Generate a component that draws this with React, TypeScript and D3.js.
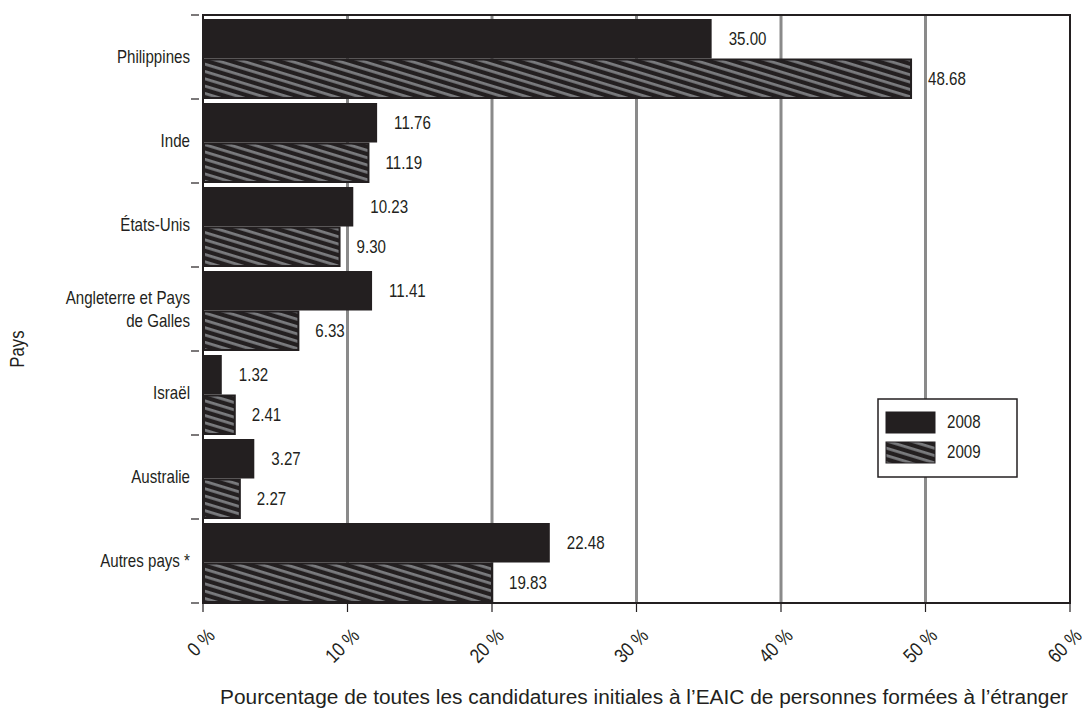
import * as d3 from "d3";
import type { ReactNode } from "react";

const width = 1082;
const height = 709;

const categories = [
  ["Philippines"],
  ["Inde"],
  ["États-Unis"],
  ["Angleterre et Pays", "de Galles"],
  ["Israël"],
  ["Australie"],
  ["Autres pays *"],
];
const series = ["2008", "2009"];
// bar lengths as drawn (in %)
const bars2008 = [35.2, 12.05, 10.4, 11.7, 1.3, 3.55, 24.0];
const bars2009 = [49.0, 11.45, 9.45, 6.6, 2.2, 2.55, 20.0];
// printed value labels
const labels2008 = ["35.00", "11.76", "10.23", "11.41", "1.32", "3.27", "22.48"];
const labels2009 = ["48.68", "11.19", "9.30", "6.33", "2.41", "2.27", "19.83"];
const xTicks = [0, 10, 20, 30, 40, 50, 60];

const font = "'Liberation Sans', Arial, sans-serif";
const ink = "#231f20";
const squeeze = 0.84; // condensed look

const plot = { left: 203, right: 1070, top: 15, bottom: 603 };

// narrow text: Liberation Sans squeezed horizontally
const Txt = ({
  x,
  y,
  rotate = 0,
  anchor = "start",
  size = 18,
  dy,
  children,
}: {
  x: number;
  y: number;
  rotate?: number;
  anchor?: string;
  size?: number;
  dy?: string;
  children: ReactNode;
}) => (
  <text
    transform={`translate(${x},${y}) rotate(${rotate}) scale(${squeeze},1)`}
    textAnchor={anchor}
    fontSize={size}
    dy={dy}
    fill={ink}
  >
    {children}
  </text>
);

const App = () => {
  const x = d3.scaleLinear().domain([0, 60]).range([plot.left, plot.right]);
  const y = d3
    .scaleBand()
    .domain(categories.map((c) => c.join(" ")))
    .range([plot.top, plot.bottom]);
  const inner = d3.scaleBand().domain(series).range([4, y.bandwidth() - 1]);

  const rows = categories.map((c, i) => ({
    key: c.join(" "),
    lines: c,
    vals: [bars2008[i], bars2009[i]],
    labels: [labels2008[i], labels2009[i]],
  }));

  return (
    <svg
      width={width}
      height={height}
      style={{ position: "absolute", left: 0, top: 0, fontFamily: font }}
    >
      <defs>
        <pattern
          id="hatch"
          patternUnits="userSpaceOnUse"
          width={12}
          height={7}
          patternTransform="rotate(17)"
        >
          <rect width={12} height={7} fill={ink} />
          <rect width={12} height={2.8} y={0} fill="#7a7b7e" />
        </pattern>
      </defs>

      {/* grid */}
      {xTicks.slice(1, -1).map((t) => (
        <line
          key={t}
          x1={x(t)}
          x2={x(t)}
          y1={plot.top}
          y2={plot.bottom}
          stroke="#8a8a8a"
          strokeWidth={3}
        />
      ))}

      {/* bars */}
      {rows.map((r) =>
        series.map((s, j) => {
          const y0 = (y(r.key) ?? 0) + (inner(s) ?? 0);
          const h = inner.bandwidth();
          return (
            <g key={r.key + s}>
              <rect
                x={x(0) + (j ? 1 : 0)}
                y={y0 + (j ? 1 : 0)}
                width={x(r.vals[j]) - x(0) - (j ? 1 : 0)}
                height={h - (j ? 1 : 0)}
                fill={j ? "url(#hatch)" : ink}
                stroke={j ? ink : "none"}
                strokeWidth={2}
              />
              <Txt x={x(r.vals[j]) + 17} y={y0 + h / 2} dy="0.36em">
                {r.labels[j]}
              </Txt>
            </g>
          );
        })
      )}

      {/* frame */}
      <rect
        x={plot.left}
        y={plot.top}
        width={plot.right - plot.left}
        height={plot.bottom - plot.top}
        fill="none"
        stroke={ink}
        strokeWidth={2}
      />

      {/* y axis ticks + labels */}
      {[...y.domain().map((k) => y(k) ?? 0), plot.bottom].map((v, i) => (
        <line key={i} x1={191} x2={199} y1={v} y2={v} stroke={ink} strokeWidth={1.2} />
      ))}
      {rows.map((r) => {
        const cy = (y(r.key) ?? 0) + y.bandwidth() / 2;
        const n = r.lines.length;
        return r.lines.map((l, i) => (
          <Txt key={r.key + i} x={190} y={cy + (i - (n - 1) / 2) * 23} anchor="end" dy="0.36em">
            {l}
          </Txt>
        ));
      })}

      {/* x axis ticks + labels */}
      {xTicks.map((t) => (
        <g key={t}>
          <line x1={x(t)} x2={x(t)} y1={plot.bottom} y2={plot.bottom + 9} stroke={ink} strokeWidth={1.2} />
          <Txt x={x(t) + 13} y={637} rotate={-45} anchor="end" size={20}>
            {`${t} %`}
          </Txt>
        </g>
      ))}

      {/* axis titles */}
      <text
        x={644}
        y={704}
        textAnchor="middle"
        fontSize={20}
        fill={ink}
        textLength={848}
        lengthAdjust="spacingAndGlyphs"
      >
        Pourcentage de toutes les candidatures initiales à l’EAIC de personnes formées à l’étranger
      </text>
      <Txt x={24} y={349} rotate={-90} anchor="middle" size={20}>
        Pays
      </Txt>

      {/* legend */}
      <rect x={878} y={399} width={139} height={78} fill="#fff" stroke={ink} strokeWidth={1.5} />
      {series.map((s, i) => (
        <g key={s}>
          <rect
            x={886}
            y={412 + i * 30}
            width={49}
            height={21}
            fill={i ? "url(#hatch)" : ink}
            stroke={ink}
            strokeWidth={1}
          />
          <Txt x={947} y={422 + i * 30} dy="0.36em">
            {s}
          </Txt>
        </g>
      ))}
    </svg>
  );
};

export default App;
